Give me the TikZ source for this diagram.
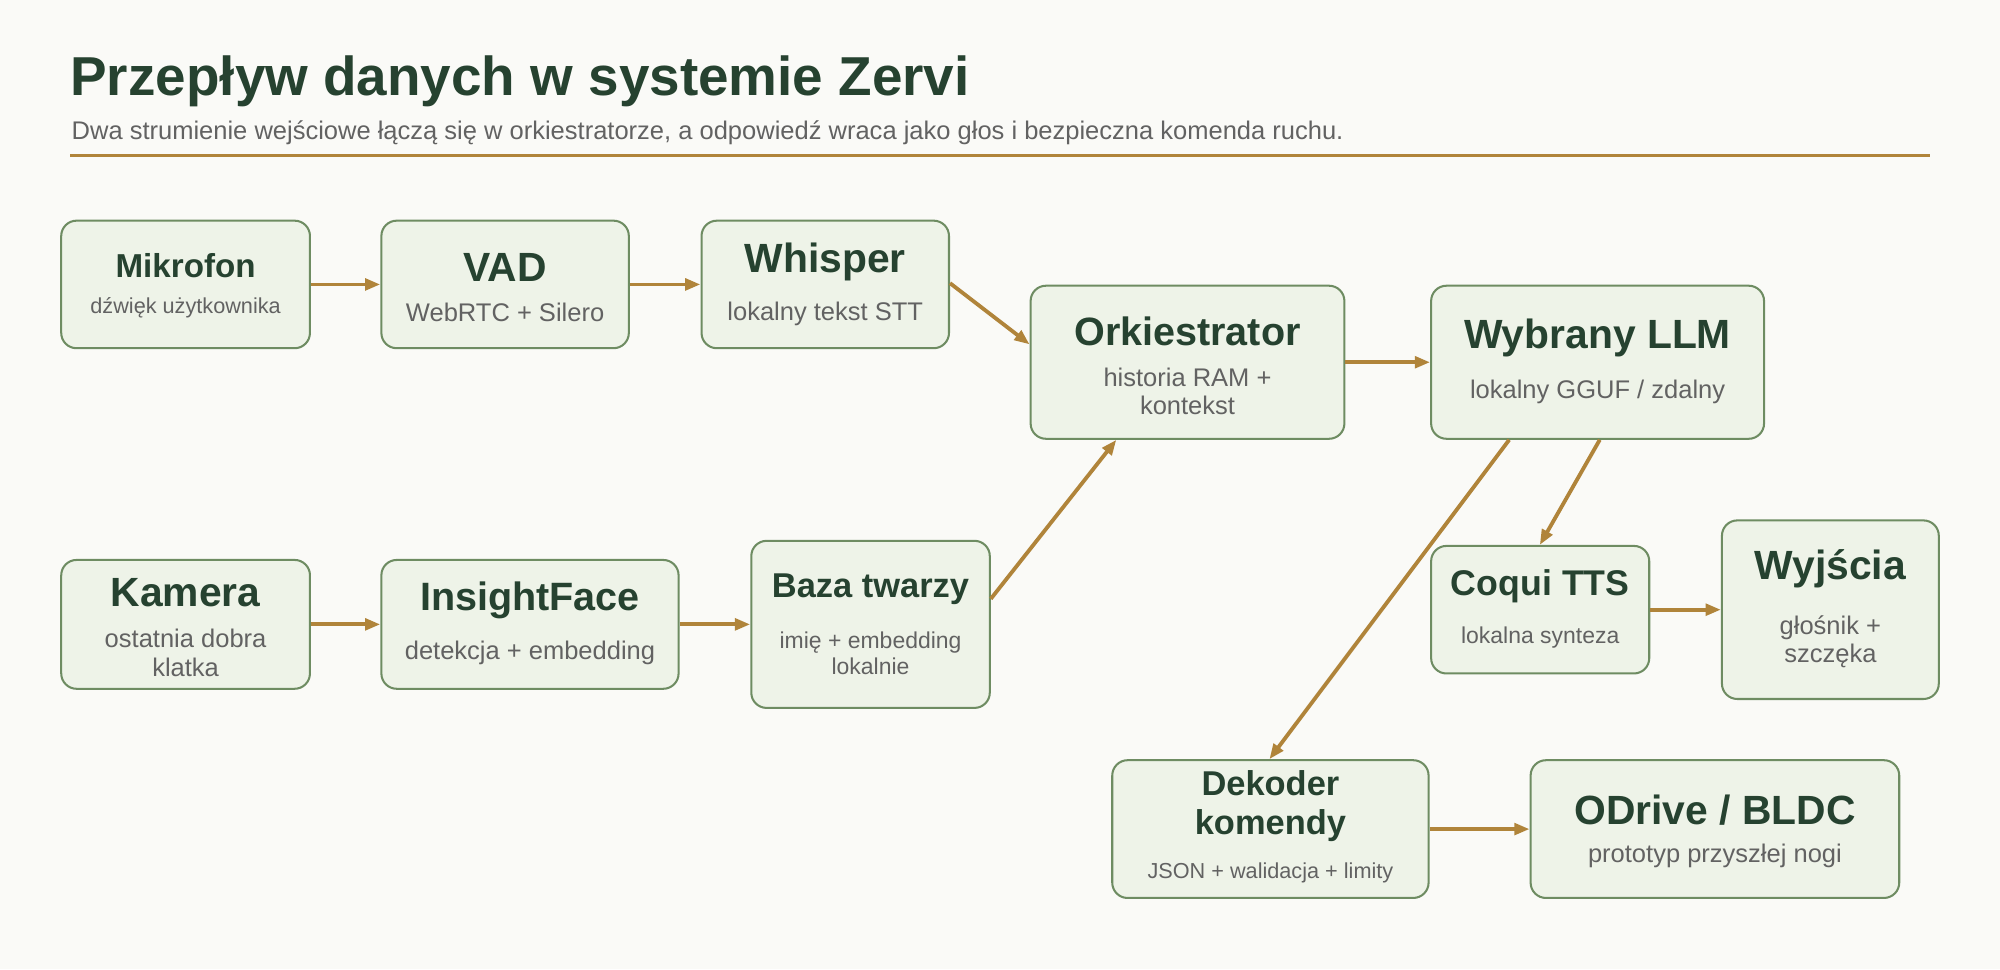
\documentclass[tikz,border=0pt]{standalone}
\usepackage{fontspec}
\setmainfont{Liberation Sans}
\usetikzlibrary{arrows.meta,calc}
\definecolor{zbg}{HTML}{FAFAF7}
\definecolor{zgreen}{HTML}{264230}
\definecolor{zfill}{HTML}{EEF3E8}
\definecolor{zedge}{HTML}{6E8C62}
\definecolor{zgold}{HTML}{B0843A}
\definecolor{zgrey}{HTML}{626262}
\newcommand{\fs}[1]{\fontsize{#1}{\dimexpr #1pt*112/100\relax}\selectfont}
\tikzset{
  box/.style={draw=zedge,fill=zfill,line width=1.6pt,rounded corners=12pt},
  ttl/.style={text=zgreen,font=\bfseries,inner sep=0pt,align=center},
  sub/.style={text=zgrey,inner sep=0pt,align=center},
  flow/.style={draw=zgold,line width=3pt,-{Triangle[length=12pt,width=9pt]}}
}
\begin{document}
\begin{tikzpicture}[x=1pt,y=-1pt]
\path[fill=zbg] (0,0) rectangle (1568,760);
\useasboundingbox (0,0) rectangle (1568,760);

% header
\node[anchor=base west,text=zgreen,font=\bfseries\fs{43},inner sep=0pt] (title) at (55,75) {Przepływ danych w systemie Zervi};
\node[anchor=base west,text=zgrey,font=\fs{20},inner sep=0pt] (subtitle) at (56,109) {Dwa strumienie wejściowe łączą się w orkiestratorze, a odpowiedź wraca jako głos i bezpieczna komenda ruchu.};
\draw[zgold,line width=2.5pt] (55,122) -- (1513,122);

% boxes
\node[box,minimum width=195pt,minimum height=100pt] (mik) at (145.5,223) {};
\node[box,minimum width=194pt,minimum height=100pt] (vad) at (396,223) {};
\node[box,minimum width=194pt,minimum height=100pt] (whi) at (647,223) {};
\node[box,minimum width=246pt,minimum height=120pt] (ork) at (931,284) {};
\node[box,minimum width=261pt,minimum height=120pt] (llm) at (1252.5,284) {};
\node[box,minimum width=195pt,minimum height=101pt] (kam) at (145.5,489.5) {};
\node[box,minimum width=233pt,minimum height=101pt] (ins) at (415.5,489.5) {};
\node[box,minimum width=187pt,minimum height=131pt] (baza) at (682.5,489.5) {};
\node[box,minimum width=171pt,minimum height=100pt] (tts) at (1207.5,478) {};
\node[box,minimum width=170pt,minimum height=140pt] (wyj) at (1435,478) {};
\node[box,minimum width=248pt,minimum height=108pt] (dek) at (996,650) {};
\node[box,minimum width=289pt,minimum height=108pt] (odr) at (1344.5,650) {};

% texts
\node[ttl,font=\bfseries\fs{26}] at (145.5,208) {Mikrofon};
\node[sub,font=\fs{17}] at (145.5,241) {dźwięk użytkownika};
\node[ttl,font=\bfseries\fs{32}] at (396,210) {VAD};
\node[sub,font=\fs{20}] at (396,245) {WebRTC + Silero};
\node[ttl,font=\bfseries\fs{32}] at (647,205) {Whisper};
\node[sub,font=\fs{20}] at (647,246) {lokalny tekst STT};
\node[ttl,font=\bfseries\fs{31}] at (931,260) {Orkiestrator};
\node[sub,font=\fs{20}] at (931,307) {historia RAM +\\kontekst};
\node[ttl,font=\bfseries\fs{32}] at (1252.5,265) {Wybrany LLM};
\node[sub,font=\fs{20}] at (1252.5,307) {lokalny GGUF / zdalny};
\node[ttl,font=\bfseries\fs{32}] at (145.5,465) {Kamera};
\node[sub,font=\fs{20}] at (145.5,512) {ostatnia dobra\\klatka};
\node[ttl,font=\bfseries\fs{31}] at (415.5,471) {InsightFace};
\node[sub,font=\fs{20}] at (415.5,512) {detekcja + embedding};
\node[ttl,font=\bfseries\fs{27}] at (682.5,462) {Baza twarzy};
\node[sub,font=\fs{18}] at (682.5,512) {imię + embedding\\lokalnie};
\node[ttl,font=\bfseries\fs{28}] at (1207.5,460) {Coqui TTS};
\node[sub,font=\fs{18}] at (1207.5,500) {lokalna synteza};
\node[ttl,font=\bfseries\fs{32}] at (1435,446) {Wyjścia};
\node[sub,font=\fs{20}] at (1435,503) {głośnik +\\szczęka};
\node[ttl,font=\bfseries\fs{27}] at (996,632) {Dekoder\\komendy};
\node[sub,font=\fs{17}] at (996,684) {JSON + walidacja + limity};
\node[ttl,font=\bfseries\fs{32}] at (1344.5,635) {ODrive / BLDC};
\node[sub,font=\fs{20}] at (1344.5,671) {prototyp przyszłej nogi};

% connectors
\draw[flow] (mik.east) -- (vad.west);
\draw[flow] (vad.east) -- (whi.west);
\draw[flow] ($(whi.east)+(0,-1)$) -- ($(ork.west)+(0,-14)$);
\draw[flow] ($(baza.east)+(0,-20)$) -- ($(ork.south west)+(68,0)$);
\draw[flow] (ork.east) -- (llm.west);
\draw[flow] ($(llm.south west)+(133,0)$) -- ($(tts.north west)+(86,0)$);
\draw[flow] ($(llm.south west)+(62,0)$) -- ($(dek.north west)+(124,0)$);
\draw[flow] (kam.east) -- (ins.west);
\draw[flow] (ins.east) -- (baza.west);
\draw[flow] (tts.east) -- (wyj.west);
\draw[flow] (dek.east) -- (odr.west);
\end{tikzpicture}
\end{document}
